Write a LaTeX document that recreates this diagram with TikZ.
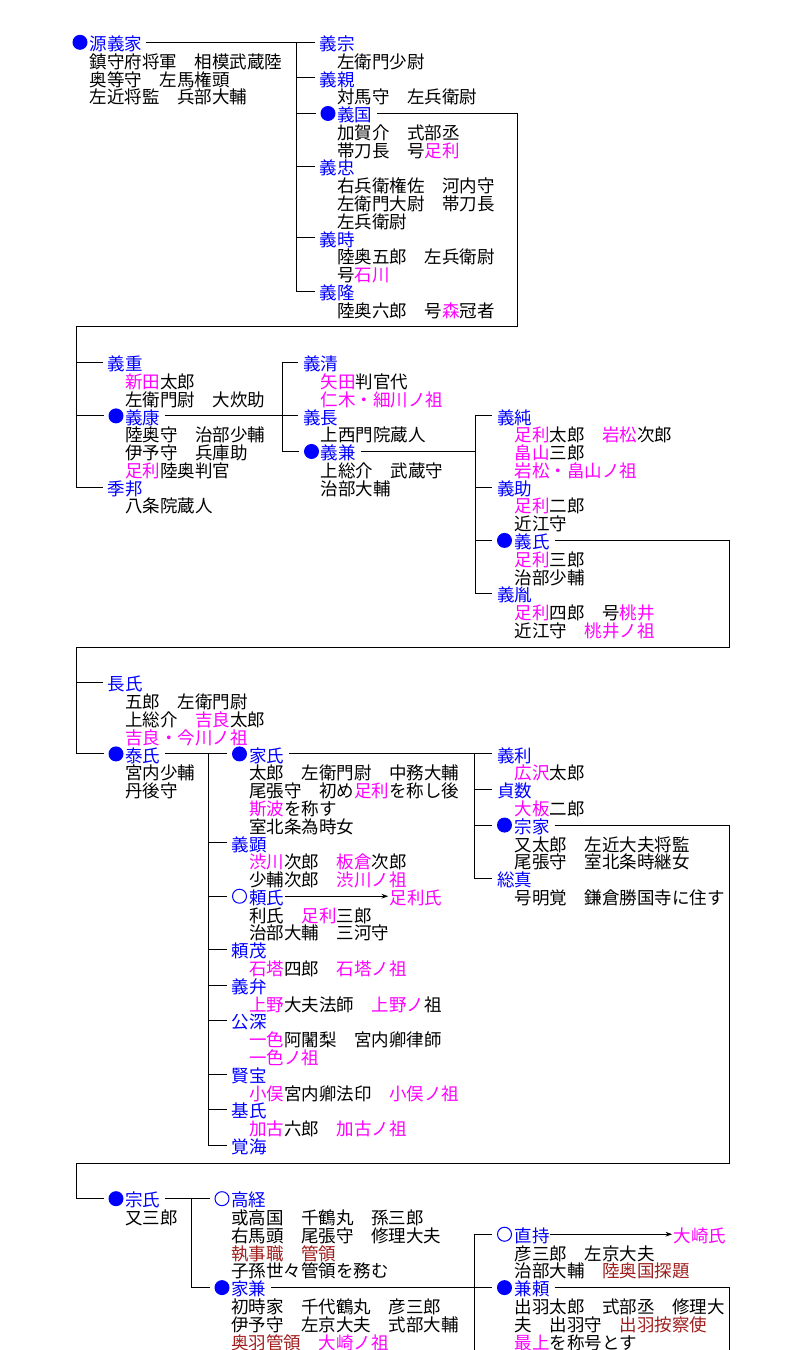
\documentclass[tikz,border=0pt]{standalone}
\usepackage{fontspec}
\setmainfont{Noto Sans CJK JP}[Kerning=Off]
\usetikzlibrary{arrows.meta}
\definecolor{nb}{RGB}{0,0,255}
\definecolor{mg}{RGB}{255,0,255}
\definecolor{dr}{RGB}{160,30,30}
\newcommand\Mg[1]{\textcolor{mg}{#1}}
\newcommand\Dr[1]{\textcolor{dr}{#1}}
\newcommand\jfs{\fontsize{13.125pt}{15pt}\selectfont}
\newcommand\tline[4]{\node[tx] (#1) at (#2,#3) {#4};}
\tikzset{
  tx/.style={anchor=west, inner sep=0pt, text height=13.8pt, text depth=1.575pt, font=\jfs, text=black},
  nm/.style={tx, text=nb},
  fdot/.style={circle, fill=nb, draw=none, inner sep=0pt, minimum size=11.25pt},
  odot/.style={circle, draw=nb, line width=0.75pt, inner sep=0pt, minimum size=10.5pt},
  ln/.style={draw=black, line width=0.75pt},
  br/.style={ln, shorten >=3.5pt},
  arr/.style={ln, -{Stealth[length=5pt,width=3.6pt]}, shorten >=1pt}
}
\begin{document}
\begin{tikzpicture}[x=0.75pt,y=-0.75pt]
\fill[white] (0,0) rectangle (794,1350);
\useasboundingbox (0,0) rectangle (794,1350);
\begin{scope}[y=-13.3425pt, yshift=-31.725pt]
% ---------------- Section 1
\node[fdot] (yie-d) at (80,0) {};
\node[nm] (yie) at (89.3,0) {源義家};
\tline{a1}{89.3}{1}{鎮守府将軍　相模武蔵陸}
\tline{a2}{89.3}{2}{奥等守　左馬権頭}
\tline{a3}{89.3}{3}{左近将監　兵部大輔}
\node[nm] (ymune) at (319.5,0) {義宗};
\tline{b1}{337}{1}{左衛門少尉}
\node[nm] (ychika) at (319.5,2) {義親};
\tline{b2}{337}{3}{対馬守　左兵衛尉}
\node[fdot] (ykuni-d) at (328,4) {};
\node[nm] (ykuni) at (337,4) {義国};
\tline{b3}{337}{5}{加賀介　式部丞}
\tline{b4}{337}{6}{帯刀長　号\Mg{足利}}
\node[nm] (ytada) at (319.5,7) {義忠};
\tline{b5}{337}{8}{右兵衛権佐　河内守}
\tline{b6}{337}{9}{左衛門大尉　帯刀長}
\tline{b7}{337}{10}{左兵衛尉}
\node[nm] (ytoki) at (319.5,11) {義時};
\tline{b8}{337}{12}{陸奥五郎　左兵衛尉}
\tline{b9}{337}{13}{号\Mg{石川}}
\node[nm] (ytaka) at (319.5,14) {義隆};
\tline{b10}{337}{15}{陸奥六郎　号\Mg{森}冠者}
\draw[ln,shorten <=3pt,shorten >=3.5pt] (yie.east) -- (ymune.west);
\coordinate (t1) at (296.7,0);
\foreach \n in {ychika,ykuni-d,ytada,ytoki,ytaka} \draw[br] (t1) |- (\n.west);
\coordinate (b1r) at (517.3,16);
\coordinate (b1l) at (76.3,16);
\draw[ln,shorten <=3.5pt] (ykuni.east) -| (b1r) -- (b1l);
% ---------------- Section 2
\node[nm] (yshige) at (107.5,18) {義重};
\tline{c1}{125}{19}{\Mg{新田}太郎}
\tline{c2}{125}{20}{左衛門尉　大炊助}
\node[fdot] (yyasu-d) at (116,21) {};
\node[nm] (yyasu) at (125,21) {義康};
\tline{c3}{125}{22}{陸奥守　治部少輔}
\tline{c4}{125}{23}{伊予守　兵庫助}
\tline{c5}{125}{24}{\Mg{足利}陸奥判官}
\node[nm] (skuni) at (107.5,25) {季邦};
\tline{c6}{125}{26}{八条院蔵人}
\foreach \n in {yshige,yyasu-d,skuni} \draw[br] (b1l) |- (\n.west);
\node[nm] (ykiyo) at (303,18) {義清};
\tline{d1}{320.5}{19}{\Mg{矢田}判官代}
\tline{d2}{320.5}{20}{\Mg{仁木・細川ノ祖}}
\node[nm] (ynaga) at (303,21) {義長};
\tline{d3}{320.5}{22}{上西門院蔵人}
\node[fdot] (ykane-d) at (311.5,23) {};
\node[nm] (ykane) at (320.5,23) {義兼};
\tline{d4}{320.5}{24}{上総介　武蔵守}
\tline{d5}{320.5}{25}{治部大輔}
\draw[ln,shorten <=3.5pt,shorten >=3.5pt] (yyasu.east) -- (ynaga.west);
\coordinate (t2) at (282,18);
\foreach \n in {ykiyo,ykane-d} \draw[br] (t2) |- (\n.west);
\node[nm] (yzumi) at (496.8,21) {義純};
\tline{e1}{514.3}{22}{\Mg{足利}太郎　\Mg{岩松}次郎}
\tline{e2}{514.3}{23}{\Mg{畠山}三郎}
\tline{e3}{514.3}{24}{\Mg{岩松・畠山ノ祖}}
\node[nm] (ysuke) at (496.8,25) {義助};
\tline{e4}{514.3}{26}{\Mg{足利}二郎}
\tline{e5}{514.3}{27}{近江守}
\node[fdot] (yuji-d) at (504.5,28) {};
\node[nm] (yuji) at (514.3,28) {義氏};
\tline{e6}{514.3}{29}{\Mg{足利}三郎}
\tline{e7}{514.3}{30}{治部少輔}
\node[nm] (ytane) at (496.8,31) {義胤};
\tline{e8}{514.3}{32}{\Mg{足利}四郎　号\Mg{桃井}}
\tline{e9}{514.3}{33}{近江守　\Mg{桃井ノ祖}}
\coordinate (t3j) at (475,23);
\draw[ln,shorten <=3.5pt] (ykane.east) -- (t3j);
\coordinate (t3) at (475,21);
\foreach \n in {yzumi,ysuke,yuji-d,ytane} \draw[br] (t3) |- (\n.west);
\coordinate (b2r) at (729.5,34);
\coordinate (b2l) at (76.3,34);
\draw[ln,shorten <=3.5pt] (yuji.east) -| (b2r) -- (b2l);
% ---------------- Section 3
\node[nm] (nagauji) at (107.5,36) {長氏};
\tline{f1}{125}{37}{五郎　左衛門尉}
\tline{f2}{125}{38}{上総介　\Mg{吉良}太郎}
\tline{f3}{125}{39}{\Mg{吉良・今川ノ祖}}
\node[fdot] (yasu-d) at (116,40) {};
\node[nm] (yasu) at (125,40) {泰氏};
\tline{f4}{125}{41}{宮内少輔}
\tline{f5}{125}{42}{丹後守}
\foreach \n in {nagauji,yasu-d} \draw[br] (b2l) |- (\n.west);
\node[fdot] (ieuji-d) at (239.5,40) {};
\node[nm] (ieuji) at (249,40) {家氏};
\tline{g1}{249}{41}{太郎　左衛門尉　中務大輔}
\tline{g2}{249}{42}{尾張守　初め\Mg{足利}を称し後}
\tline{g3}{249}{43}{\Mg{斯波}を称す}
\tline{g4}{249}{44}{室北条為時女}
\node[nm] (yaki) at (231.5,45) {義顕};
\tline{g5}{249}{46}{\Mg{渋川}次郎　\Mg{板倉}次郎}
\tline{g6}{249}{47}{少輔次郎　\Mg{渋川ノ祖}}
\node[odot] (yori-d) at (239.5,48) {};
\node[nm] (yori) at (249,48) {頼氏};
\node[tx,text=mg] (ashi) at (389.5,48) {足利氏};
\tline{g7}{249}{49}{利氏　\Mg{足利}三郎}
\tline{g8}{249}{50}{治部大輔　三河守}
\node[nm] (yorishige) at (231.5,51) {頼茂};
\tline{g9}{249}{52}{\Mg{石塔}四郎　\Mg{石塔ノ祖}}
\node[nm] (yben) at (231.5,53) {義弁};
\tline{g10}{249}{54}{\Mg{上野}大夫法師　\Mg{上野ノ}祖}
\node[nm] (kofuka) at (231.5,55) {公深};
\tline{g11}{249}{56}{\Mg{一色}阿闍梨　宮内卿律師}
\tline{g12}{249}{57}{\Mg{一色ノ祖}}
\node[nm] (kenpo) at (231.5,58) {賢宝};
\tline{g13}{249}{59}{\Mg{小俣}宮内卿法印　\Mg{小俣ノ祖}}
\node[nm] (motouji) at (231.5,60) {基氏};
\tline{g14}{249}{61}{\Mg{加古}六郎　\Mg{加古ノ祖}}
\node[nm] (kakukai) at (231.5,62) {覚海};
\draw[ln,shorten <=3.5pt,shorten >=3.5pt] (yasu.east) -- (ieuji-d.west);
\coordinate (t4) at (208.3,40);
\foreach \n in {yaki,yori-d,yorishige,yben,kofuka,kenpo,motouji,kakukai} \draw[br] (t4) |- (\n.west);
\draw[arr] (yori.east) -- (ashi.west);
\node[nm] (ytoshi) at (496.8,40) {義利};
\tline{h1}{514.3}{41}{\Mg{広沢}太郎}
\node[nm] (sadakazu) at (496.8,42) {貞数};
\tline{h2}{514.3}{43}{\Mg{大板}二郎}
\node[fdot] (muneie-d) at (504.5,44) {};
\node[nm] (muneie) at (514.3,44) {宗家};
\tline{h3}{514.3}{45}{又太郎　左近大夫将監}
\tline{h4}{514.3}{46}{尾張守　室北条時継女}
\node[nm] (soshin) at (496.8,47) {総真};
\tline{h5}{514.3}{48}{号明覚　鎌倉勝国寺に住す}
\draw[ln,shorten <=3.5pt,shorten >=3.5pt] (ieuji.east) -- (ytoshi.west);
\coordinate (t5) at (474,40);
\foreach \n in {sadakazu,muneie-d,soshin} \draw[br] (t5) |- (\n.west);
\coordinate (b3r) at (729.5,63);
\coordinate (b3l) at (76.3,63);
\draw[ln,shorten <=3.5pt] (muneie.east) -| (b3r) -- (b3l);
% ---------------- Section 4
\node[fdot] (muneuji-d) at (116,65) {};
\node[nm] (muneuji) at (125,65) {宗氏};
\tline{i1}{125}{66}{又三郎}
\draw[br] (b3l) |- (muneuji-d.west);
\node[odot] (taka-d) at (222,65) {};
\node[nm] (taka) at (231,65) {高経};
\tline{j1}{231}{66}{或高国　千鶴丸　孫三郎}
\tline{j2}{231}{67}{右馬頭　尾張守　修理大夫}
\tline{j3}{231}{68}{\Dr{執事職　管領}}
\tline{j4}{231}{69}{子孫世々管領を務む}
\node[fdot] (iekane-d) at (222,70) {};
\node[nm] (iekane) at (231,70) {家兼};
\tline{j5}{231}{71}{初時家　千代鶴丸　彦三郎}
\tline{j6}{231}{72}{伊予守　左京大夫　式部大輔}
\tline{j7}{231}{73}{\Dr{奥羽管領}　\Mg{大崎ノ祖}}
\draw[ln,shorten <=3.5pt,shorten >=3.5pt] (muneuji.east) -- (taka-d.west);
\coordinate (t6) at (191.7,65);
\draw[br] (t6) |- (iekane-d.west);
\node[odot] (nao-d) at (504.5,67) {};
\node[nm] (nao) at (514.3,67) {直持};
\node[tx,text=mg] (osaki) at (673.5,67) {大崎氏};
\tline{k1}{514.3}{68}{彦三郎　左京大夫}
\tline{k2}{514.3}{69}{治部大輔　\Dr{陸奥国探題}}
\node[fdot] (kaneyori-d) at (504.5,70) {};
\node[nm] (kaneyori) at (514.3,70) {兼頼};
\tline{k3}{514.3}{71}{出羽太郎　式部丞　修理大}
\tline{k4}{514.3}{72}{夫　出羽守　\Dr{出羽按察使}}
\tline{k5}{514.3}{73}{\Mg{最上}を称号とす}
\coordinate (t7j) at (474,70);
\coordinate (t7b) at (474,73.5);
\draw[ln,shorten <=3.5pt] (iekane.east) -- (t7j);
\draw[br] (t7b) |- (nao-d.west);
\draw[br] (t7j) -- (kaneyori-d.west);
\draw[arr] (nao.east) -- (osaki.west);
\coordinate (b4r) at (729,73.5);
\draw[ln,shorten <=3.5pt] (kaneyori.east) -| (b4r);
\end{scope}
\end{tikzpicture}
\end{document}
